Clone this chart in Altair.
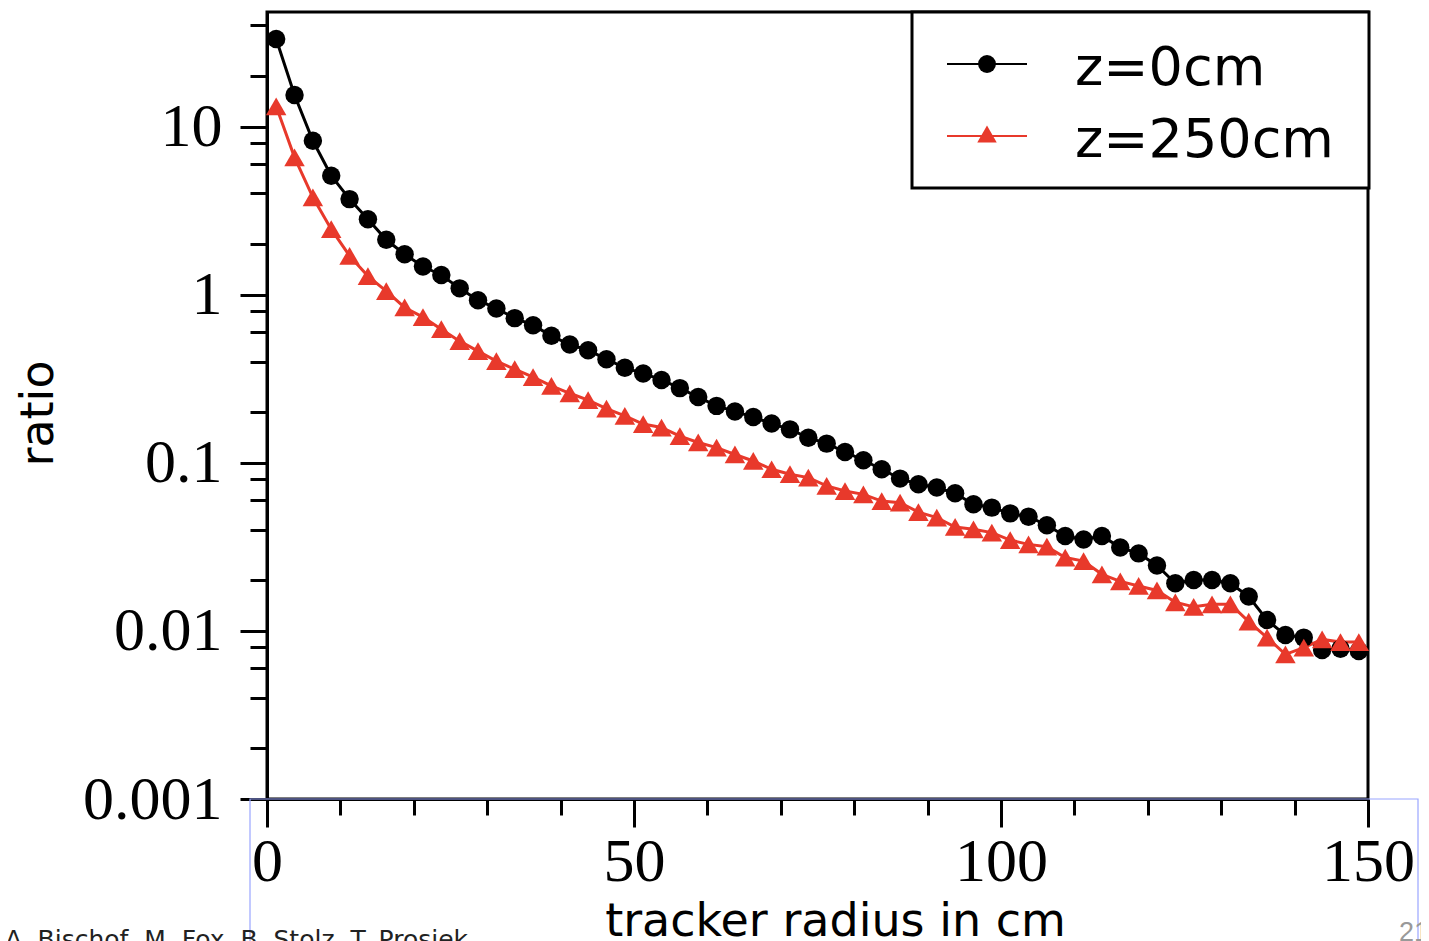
import altair as alt
import pandas as pd

series = ["z=0cm", "z=250cm"]
colors = ["black", "#e8392b"]
shapes = ["circle", "triangle-up"]

radius = [1.25, 3.75, 6.25, 8.75, 11.25, 13.75, 16.25, 18.75, 21.25, 23.75,
          26.25, 28.75, 31.25, 33.75, 36.25, 38.75, 41.25, 43.75, 46.25, 48.75,
          51.25, 53.75, 56.25, 58.75, 61.25, 63.75, 66.25, 68.75, 71.25, 73.75,
          76.25, 78.75, 81.25, 83.75, 86.25, 88.75, 91.25, 93.75, 96.25, 98.75,
          101.25, 103.75, 106.25, 108.75, 111.25, 113.75, 116.25, 118.75, 121.25, 123.75,
          126.25, 128.75, 131.25, 133.75, 136.25, 138.75, 141.25, 143.75, 146.25, 148.75]

ratio_z0 = [33.2, 15.4, 8.23, 5.1, 3.70, 2.81, 2.12, 1.74, 1.47, 1.31,
            1.09, 0.927, 0.828, 0.725, 0.658, 0.569, 0.505, 0.467, 0.413, 0.367,
            0.340, 0.311, 0.278, 0.246, 0.218, 0.202, 0.187, 0.171, 0.158, 0.141,
            0.130, 0.116, 0.1035, 0.0915, 0.0805, 0.0745, 0.0712, 0.0658, 0.0566, 0.0541,
            0.0500, 0.0478, 0.0425, 0.0367, 0.0350, 0.0367, 0.0313, 0.0289, 0.0245, 0.0192,
            0.0201, 0.0201, 0.0192, 0.0160, 0.0116, 0.00944, 0.00912, 0.00769, 0.00783, 0.00759]

ratio_z250 = [13.2, 6.56, 3.79, 2.45, 1.70, 1.29, 1.05, 0.839, 0.735, 0.623,
              0.529, 0.461, 0.402, 0.360, 0.323, 0.287, 0.259, 0.236, 0.210, 0.190,
              0.170, 0.162, 0.144, 0.132, 0.123, 0.112, 0.1025, 0.0915, 0.0855, 0.0816,
              0.0728, 0.0679, 0.0649, 0.0592, 0.0579, 0.0509, 0.0472, 0.0415, 0.0402, 0.0384,
              0.0347, 0.0327, 0.0317, 0.0273, 0.0260, 0.0217, 0.0197, 0.0185, 0.0174, 0.0148,
              0.0139, 0.0144, 0.0144, 0.01135, 0.00912, 0.00725, 0.00794, 0.00890, 0.00858, 0.00858]

x_ticks = [0, 10, 20, 30, 40, 50, 60, 70, 80, 90, 100, 110, 120, 130, 140, 150]
y_ticks = [0.001, 0.002, 0.004, 0.006, 0.008,
           0.01, 0.02, 0.04, 0.06, 0.08,
           0.1, 0.2, 0.4, 0.6, 0.8,
           1, 2, 4, 6, 8,
           10, 20, 40]

x_title = "tracker radius in cm"
y_title = "ratio"
footer = "A. Bischof, M. Fox, B. Stolz, T. Prosiek"
page_no = "21"

df = pd.DataFrame({
    "radius": radius + radius,
    "ratio": ratio_z0 + ratio_z250,
    "series": [series[0]] * len(radius) + [series[1]] * len(radius),
})

one = pd.DataFrame({"k": [0]})

pow10 = "abs(log(datum.value)/LN10 - round(log(datum.value)/LN10)) < 1e-6"

x_enc = alt.X(
    "radius:Q",
    scale=alt.Scale(domain=[0, 150], nice=False, zero=False),
    axis=alt.Axis(
        values=x_ticks,
        labelExpr="datum.value % 50 == 0 ? datum.label : ''",
        tickSize={"condition": {"test": "datum.value % 50 == 0", "value": 28}, "value": 16},
        tickWidth=3, domainWidth=3, tickColor="black", domainColor="black",
        labelFont="Liberation Serif", labelFontSize=62, labelColor="black",
        labelPadding=4, labelOverlap=False, labelFlush=False,
        grid=False,
        title=x_title, titleFont="DejaVu Sans", titleFontSize=46, titleFontWeight="normal",
        titleColor="black", titleX=568, titleY=136, titleBaseline="alphabetic", titleAlign="center",
    ),
)

y_enc = alt.Y(
    "ratio:Q",
    scale=alt.Scale(type="log", domain=[0.001, 48], nice=False),
    axis=alt.Axis(
        values=y_ticks,
        format="~g",
        labelExpr=f"({pow10}) ? datum.label : ''",
        tickSize={"condition": {"test": pow10, "value": 27}, "value": 17},
        tickWidth=3, domainWidth=3, tickColor="black", domainColor="black",
        labelFont="Liberation Serif", labelFontSize=62, labelColor="black",
        labelPadding=18, labelOverlap=False, labelFlush=False, labelBaseline="middle",
        grid=False,
        title=y_title, titleFont="DejaVu Sans", titleFontSize=46, titleFontWeight="normal",
        titleColor="black", titleX=-229, titleY=401, titleAngle=270, titleBaseline="middle",
        titleAlign="center",
    ),
)

color_enc = alt.Color("series:N", scale=alt.Scale(domain=series, range=colors), legend=None)
shape_enc = alt.Shape("series:N", scale=alt.Scale(domain=series, range=shapes), legend=None)

lines = alt.Chart(df).mark_line(strokeWidth=3).encode(
    x=x_enc, y=y_enc, color=color_enc, detail="series:N"
)
points = alt.Chart(df).mark_point(filled=True, opacity=1).encode(
    x="radius:Q", y="ratio:Q", color=color_enc, shape=shape_enc,
    size=alt.Size("series:N", scale=alt.Scale(domain=series, range=[340, 420]), legend=None),
)

# legend box
leg_box = alt.Chart(one).mark_rect(fill="white", stroke="black", strokeWidth=3).encode(
    x=alt.value(645), x2=alt.value(1102), y=alt.value(0), y2=alt.value(176)
)
leg_layers = [leg_box]
leg_rows = [(52, 73), (124, 145)]
for i, (ly, ty) in enumerate(leg_rows):
    leg_layers.append(
        alt.Chart(one).mark_rule(color=colors[i], strokeWidth=2).encode(
            x=alt.value(680), x2=alt.value(760), y=alt.value(ly)
        )
    )
    leg_layers.append(
        alt.Chart(one).mark_point(filled=True, opacity=1, shape=shapes[i], color=colors[i],
                                  size=320 if i == 0 else 380).encode(
            x=alt.value(720), y=alt.value(ly if i == 0 else ly - 2)
        )
    )
    leg_layers.append(
        alt.Chart(one).mark_text(text=series[i], font="DejaVu Sans", fontSize=54, color="black",
                                 align="left", baseline="alphabetic").encode(
            x=alt.value(808), y=alt.value(ty)
        )
    )

blue_box = alt.Chart(one).mark_rect(fill=None, stroke="#9aa6ff", strokeWidth=1.2).encode(
    x=alt.value(-17), x2=alt.value(1151), y=alt.value(787), y2=alt.value(940)
)
footer_txt = alt.Chart(one).mark_text(text=footer, font="DejaVu Sans", fontSize=25, color="#222222",
                                      align="left", baseline="alphabetic").encode(
    x=alt.value(-262), y=alt.value(936)
)
page_txt = alt.Chart(one).mark_text(text=page_no, font="Liberation Sans", fontSize=27, color="#999999",
                                    align="left", baseline="alphabetic").encode(
    x=alt.value(1132), y=alt.value(929)
)

chart = alt.layer(blue_box, lines, points, *leg_layers, footer_txt, page_txt).properties(
    width=1101,
    height=787,
    background="white",
    autosize=alt.AutoSizeParams(type="none"),
    padding={"left": 259, "top": 4, "right": 53, "bottom": 142},
).configure_view(
    stroke="black", strokeWidth=3
)

chart.save("out.html", embed_options={"renderer": "svg", "actions": False})
